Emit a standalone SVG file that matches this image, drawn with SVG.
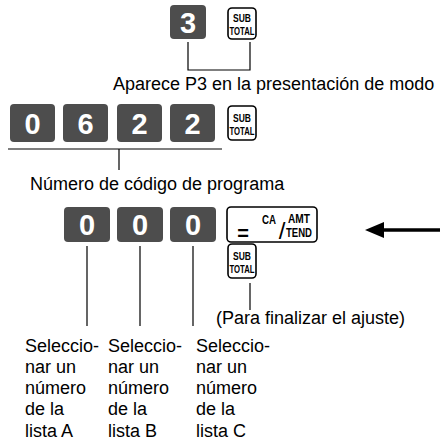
<svg xmlns="http://www.w3.org/2000/svg" width="444" height="442" viewBox="0 0 444 442">
<style>
.key{fill:#4d4d4d}
.kd{font-family:"Liberation Sans",Arial,sans-serif;font-weight:bold;font-size:29px;fill:#fff;text-anchor:middle}
.ok{fill:#fff;stroke:#000;stroke-width:1.6}
.kl{font-family:"Liberation Sans Narrow","Liberation Sans",Arial,sans-serif;font-weight:bold;font-size:11px;fill:#000;text-anchor:middle}
.t{font-family:"Liberation Sans",Arial,sans-serif;font-size:18px;fill:#000}
.ln{stroke:#000;stroke-width:1.2;fill:none}
</style>
<rect width="444" height="442" fill="#fff"/>
<g id="key-3"><rect class="key" x="170" y="5" width="36" height="34" rx="4"/><text class="kd" x="188" y="33">3</text></g>
<g id="subtotal-1"><rect class="ok" x="228" y="8" width="28" height="31" rx="4"/><text class="kl" x="242" y="22" textLength="18" lengthAdjust="spacingAndGlyphs">SUB</text><text class="kl" x="242" y="35" textLength="25" lengthAdjust="spacingAndGlyphs">TOTAL</text></g>
<g id="label-p3"><text class="t" x="113" y="90">Aparece P3 en la presentación de modo</text></g>
<g id="key-0a"><rect class="key" x="10" y="104" width="45" height="38" rx="4"/><text class="kd" x="32.5" y="134">0</text></g>
<g id="key-6"><rect class="key" x="63" y="104" width="45" height="38" rx="4"/><text class="kd" x="85.5" y="134">6</text></g>
<g id="key-2a"><rect class="key" x="117" y="104" width="45" height="38" rx="4"/><text class="kd" x="139.5" y="134">2</text></g>
<g id="key-2b"><rect class="key" x="170" y="104" width="45" height="38" rx="4"/><text class="kd" x="192.5" y="134">2</text></g>
<g id="subtotal-2"><rect class="ok" x="228" y="106" width="28" height="34" rx="4"/><text class="kl" x="242" y="121.5" textLength="18" lengthAdjust="spacingAndGlyphs">SUB</text><text class="kl" x="242" y="134.5" textLength="25" lengthAdjust="spacingAndGlyphs">TOTAL</text></g>
<g id="label-code"><text class="t" x="30" y="190">Número de código de programa</text></g>
<g id="key-0b"><rect class="key" x="64" y="207" width="46" height="35" rx="4"/><text class="kd" x="87" y="235">0</text></g>
<g id="key-0c"><rect class="key" x="117" y="207" width="46" height="35" rx="4"/><text class="kd" x="140" y="235">0</text></g>
<g id="key-0d"><rect class="key" x="170" y="207" width="46" height="35" rx="4"/><text class="kd" x="193" y="235">0</text></g>
<g id="key-ca"><rect class="ok" x="227" y="207" width="90" height="35" rx="4"/>
<text class="kl" x="243" y="240" style="font-size:20px">=</text>
<text class="kl" x="269" y="224" textLength="14" lengthAdjust="spacingAndGlyphs" style="font-size:12px">CA</text>
<text class="kl" x="282" y="239" style="font-size:24px;font-weight:normal">/</text>
<text class="kl" x="299" y="223" textLength="22" lengthAdjust="spacingAndGlyphs" style="font-size:12px">AMT</text>
<text class="kl" x="299" y="237" textLength="26" lengthAdjust="spacingAndGlyphs" style="font-size:12px">TEND</text></g>
<g id="subtotal-3"><rect class="ok" x="228" y="244" width="28" height="34" rx="4"/><text class="kl" x="242" y="259.5" textLength="18" lengthAdjust="spacingAndGlyphs">SUB</text><text class="kl" x="242" y="272.5" textLength="25" lengthAdjust="spacingAndGlyphs">TOTAL</text></g>
<g id="label-end"><text class="t" x="216" y="324">(Para finalizar el ajuste)</text></g>
<g id="label-a"><text class="t"><tspan x="25" y="352">Seleccio-</tspan><tspan x="25" y="373">nar un</tspan><tspan x="25" y="394">número</tspan><tspan x="25" y="415">de la</tspan><tspan x="25" y="437">lista A</tspan></text></g>
<g id="label-b"><text class="t"><tspan x="108" y="352">Seleccio-</tspan><tspan x="108" y="373">nar un</tspan><tspan x="108" y="394">número</tspan><tspan x="108" y="415">de la</tspan><tspan x="108" y="437">lista B</tspan></text></g>
<g id="label-c"><text class="t"><tspan x="196" y="352">Seleccio-</tspan><tspan x="196" y="373">nar un</tspan><tspan x="196" y="394">número</tspan><tspan x="196" y="415">de la</tspan><tspan x="196" y="437">lista C</tspan></text></g>
<g id="connectors">
<path class="ln" d="M188 42V70H250V42"/>
<path class="ln" d="M8 149H222M119 149V170"/>
<path class="ln" d="M87 246V326M140 246V326M193 246V326"/>
<path class="ln" d="M250 283V310"/>
<path d="M440 230H382" stroke="#000" stroke-width="3.5"/>
<path d="M365 230L384 222V238Z" fill="#000"/>
</g>
</svg>
